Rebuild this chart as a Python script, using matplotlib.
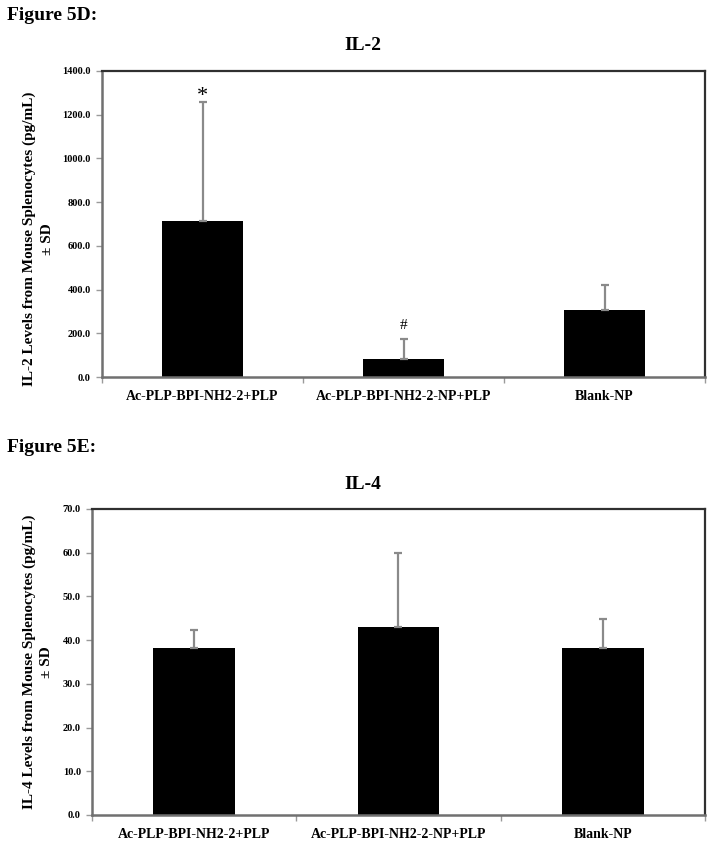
import matplotlib
matplotlib.use("Agg")
import matplotlib.pyplot as plt
from matplotlib.ticker import FormatStrFormatter, FixedLocator

categories = ["Ac-PLP-BPI-NH2-2+PLP", "Ac-PLP-BPI-NH2-2-NP+PLP", "Blank-NP"]
il2_mean = [712, 81, 305]
il2_sd = [546, 93, 117]
il2_marks = ["*", "#", ""]
il4_mean = [38.2, 42.9, 38.2]
il4_sd = [4.1, 17.1, 6.7]

plt.rcParams['font.family'] = ['Liberation Serif', 'DejaVu Serif']
plt.rcParams['font.weight'] = 'bold'

W, H = 714, 849
fig = plt.figure(figsize=(W / 100, H / 100), dpi=100)


def px_axes(x0, y0, x1, y1):
    return fig.add_axes([x0 / W, (H - y1) / H, (x1 - x0) / W, (y1 - y0) / H])


def draw(ax, means, sds, ymax, ystep, ylabel, label_x, label_y, title_y, title,
         marks=None, mark_sizes=None, mark_offsets=None):
    x = list(range(len(categories)))
    ax.bar(x, means, width=0.4, color="black", zorder=2)
    ax.errorbar(x, means, yerr=[[0] * len(sds), sds], fmt="none", ecolor="#8a8a8a",
                elinewidth=1.6, capsize=3, capthick=1.6, zorder=3)
    ax.set_xlim(-0.5, len(categories) - 0.5)
    ax.set_ylim(0, ymax)
    ax.set_yticks([i * ystep for i in range(int(round(ymax / ystep)) + 1)])
    ax.yaxis.set_major_formatter(FormatStrFormatter("%.1f"))
    ax.set_xticks(x)
    ax.set_xticklabels(categories, fontsize=10, fontweight="bold")
    ax.tick_params(axis="x", which="major", length=0, pad=9)
    ax.xaxis.set_minor_locator(FixedLocator([i + 0.5 for i in range(-1, len(categories))]))
    ax.tick_params(axis="x", which="minor", length=4, color="#9a9a9a", width=1)
    ax.tick_params(axis="y", which="major", length=4, color="#9a9a9a", width=1,
                   labelsize=7.5, pad=4)
    for lab in ax.get_yticklabels():
        lab.set_fontweight("bold")
    for side in ["left", "bottom"]:
        ax.spines[side].set_color("#707070")
        ax.spines[side].set_linewidth(1.8)
    for side in ["top", "right"]:
        ax.spines[side].set_color("#303030")
        ax.spines[side].set_linewidth(1.6)
    ax.set_ylabel(ylabel, fontsize=11, fontweight="bold", linespacing=1.45)
    ax.yaxis.set_label_coords(label_x, label_y)
    fig.text(363 / W, 1 - title_y / H, title, ha="center", va="center",
             fontsize=14, fontweight="bold")
    if marks:
        for xi, m, v, s, fs, off in zip(x, marks, means, sds, mark_sizes, mark_offsets):
            if m:
                ax.annotate(m, (xi, v + s), xytext=(0, off), textcoords="offset points",
                            ha="center", va="bottom", fontsize=fs, fontweight="normal")


ax1 = px_axes(102, 71, 705, 377)
draw(ax1, il2_mean, il2_sd, 1400, 200,
     "IL-2 Levels from Mouse Splenocytes (pg/mL)\n\u00b1 SD", -0.08, 0.45, 45, "IL-2",
     marks=il2_marks, mark_sizes=[16, 11, 11], mark_offsets=[-3, 5, 5])

ax2 = px_axes(92, 509, 705, 815)
draw(ax2, il4_mean, il4_sd, 70, 10,
     "IL-4 Levels from Mouse Splenocytes (pg/mL)\n\u00b1 SD", -0.063, 0.5, 484, "IL-4")

fig.text(7 / W, 1 - 15 / H, "Figure 5D:", ha="left", va="center", fontsize=14, fontweight="bold")
fig.text(7 / W, 1 - 448 / H, "Figure 5E:", ha="left", va="center", fontsize=14, fontweight="bold")

fig.savefig("out.png", dpi=100)
